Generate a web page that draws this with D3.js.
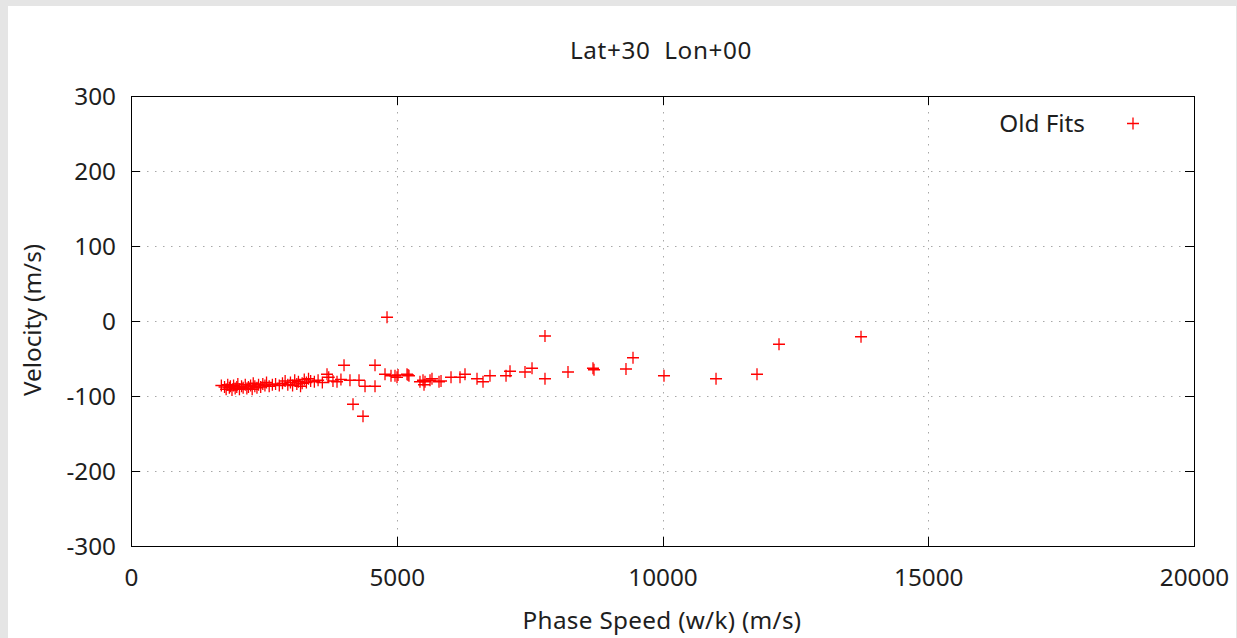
<!DOCTYPE html>
<html><head><meta charset="utf-8">
<script src="https://cdn.jsdelivr.net/npm/d3@7"></script>
<style>
html,body{margin:0;padding:0;background:#e5e5e5;}
svg{display:block;}
text{font-family:"Noto Sans",sans-serif;fill:#1e1e1e;white-space:pre;}
</style></head>
<body>
<script>
const title = "Lat+30  Lon+00";
const xLabel = "Phase Speed (w/k) (m/s)";
const yLabel = "Velocity (m/s)";
const legendLabel = "Old Fits";
const xTicks = [0, 5000, 10000, 15000, 20000];
const yTicks = [-300, -200, -100, 0, 100, 200, 300];
// Phase speed (m/s)
const phaseSpeed = [
 1700,1760,1790,1820,1850,1870,1900,1930,1960,1990,2010,2040,2080,2110,2150,2180,2210,2250,2280,2300,
 2330,2370,2400,2440,2480,2520,2550,2600,2660,2720,2790,2850,2900,2950,3000,3040,3080,3120,3150,3190,
 3220,3260,3300,3340,3380,3450,3520,3600,3688,3720,3800,3876,3950,4008,4120,4177,4290,4365,4403,4591,
 4591,4779,4817,4892,4967,5005,5024,5193,5212,5230,5437,5494,5513,5532,5626,5663,5795,5833,6021,6190,
 6284,6510,6623,6754,7056,7131,7413,7545,7789,7789,8222,8692,8711,9313,9445,10028,11007,11778,12192,13735
];
// Velocity (m/s)
const velocity = [
 -86,-88,-91,-85,-89,-87,-92,-86,-90,-88,-84,-91,-87,-89,-85,-90,-88,-86,-91,-83,
 -87,-89,-85,-88,-84,-86,-82,-87,-85,-84,-86,-83,-80,-85,-82,-86,-79,-84,-81,-87,
 -83,-78,-82,-77,-80,-81,-79,-82,-71,-75,-80,-81,-78,-59,-79,-111,-79,-127,-87,-59,
 -87,-71,5,-73,-73,-75,-72,-71,-72,-73,-81,-79,-85,-81,-79,-77,-81,-80,-75,-75,
 -71,-77,-81,-73,-73,-67,-68,-63,-20,-77,-68,-63,-65,-64,-49,-73,-77,-71,-31,-21
];

const W = 1237, H = 638;
const FS = 24.3;
const svg = d3.select("body").append("svg").attr("width", W).attr("height", H);
svg.append("rect").attr("x", 8).attr("y", 6).attr("width", 1228).attr("height", H - 6).attr("fill", "#fff");

const L = 131, R = 1194, T = 96, B = 546;
const x = d3.scaleLinear().domain([0, 20000]).range([L, R]);
const y = d3.scaleLinear().domain([-300, 300]).range([B, T]);
const fmt = d => String(d);

const grid = svg.append("g").attr("stroke", "#a8a8a8").attr("stroke-width", 1).attr("stroke-dasharray", "1.5,6.5");
xTicks.filter(t => t > 0 && t < 20000).forEach(t => {
  grid.append("line").attr("x1", Math.round(x(t)) + 0.5).attr("x2", Math.round(x(t)) + 0.5).attr("y1", T).attr("y2", B);
});
yTicks.filter(t => t > -300 && t < 300).forEach(t => {
  grid.append("line").attr("y1", Math.round(y(t)) + 0.5).attr("y2", Math.round(y(t)) + 0.5).attr("x1", L).attr("x2", R);
});

// ticks (inward, mirrored)
const tk = svg.append("g").attr("stroke", "#000").attr("stroke-width", 1);
xTicks.forEach(t => {
  const px = Math.round(x(t)) + 0.5;
  tk.append("line").attr("x1", px).attr("x2", px).attr("y1", B).attr("y2", B - 9);
  tk.append("line").attr("x1", px).attr("x2", px).attr("y1", T).attr("y2", T + 9);
});
yTicks.forEach(t => {
  const py = Math.round(y(t)) + 0.5;
  tk.append("line").attr("x1", L).attr("x2", L + 9).attr("y1", py).attr("y2", py);
  tk.append("line").attr("x1", R).attr("x2", R - 9).attr("y1", py).attr("y2", py);
});

svg.append("rect").attr("x", L + 0.5).attr("y", T + 0.5).attr("width", R - L).attr("height", B - T)
  .attr("fill", "none").attr("stroke", "#000").attr("stroke-width", 1);

const xAxis = d3.axisBottom(x).tickValues(xTicks).tickSize(0).tickPadding(0).tickFormat(fmt);
const gx = svg.append("g").attr("transform", `translate(0,${B + 31})`).call(xAxis);
gx.select(".domain").remove();
gx.selectAll("text").attr("font-size", FS).attr("fill", "#1e1e1e").attr("y", 0).attr("dy", "0.35em").style("font-family", "Noto Sans");

const yAxis = d3.axisLeft(y).tickValues(yTicks).tickSize(0).tickPadding(0).tickFormat(fmt);
const gy = svg.append("g").attr("transform", `translate(${L - 15},0)`).call(yAxis);
gy.select(".domain").remove();
gy.selectAll("text").attr("font-size", FS).attr("fill", "#1e1e1e").attr("dy", "0.35em").style("font-family", "Noto Sans");

svg.append("text").attr("x", 661).attr("y", 50).attr("dy", "0.35em").attr("text-anchor", "middle")
  .attr("font-size", FS).attr("letter-spacing", "0.6px").text(title);
svg.append("text").attr("x", 662).attr("y", 620).attr("dy", "0.35em").attr("text-anchor", "middle")
  .attr("font-size", FS).attr("letter-spacing", "0.3px").text(xLabel);
svg.append("text").attr("transform", "translate(32,320) rotate(-90)").attr("dy", "0.35em").attr("text-anchor", "middle")
  .attr("font-size", FS).text(yLabel);

// data
const pts = phaseSpeed.map((p, i) => [p, velocity[i]]);
const plus = (g, cx, cy, s) => {
  g.append("path").attr("d", `M${cx - s},${cy}H${cx + s}M${cx},${cy - s}V${cy + s}`);
};
const pg = svg.append("g").attr("stroke", "#ff0000").attr("stroke-width", 1.3).attr("fill", "none");
pts.forEach(d => plus(pg, x(d[0]), y(d[1]), 6));

svg.append("text").attr("x", 1085).attr("y", 123).attr("dy", "0.35em").attr("text-anchor", "end")
  .attr("font-size", FS).text(legendLabel);
plus(pg, 1133, 123.5, 6);
</script>
</body></html>
